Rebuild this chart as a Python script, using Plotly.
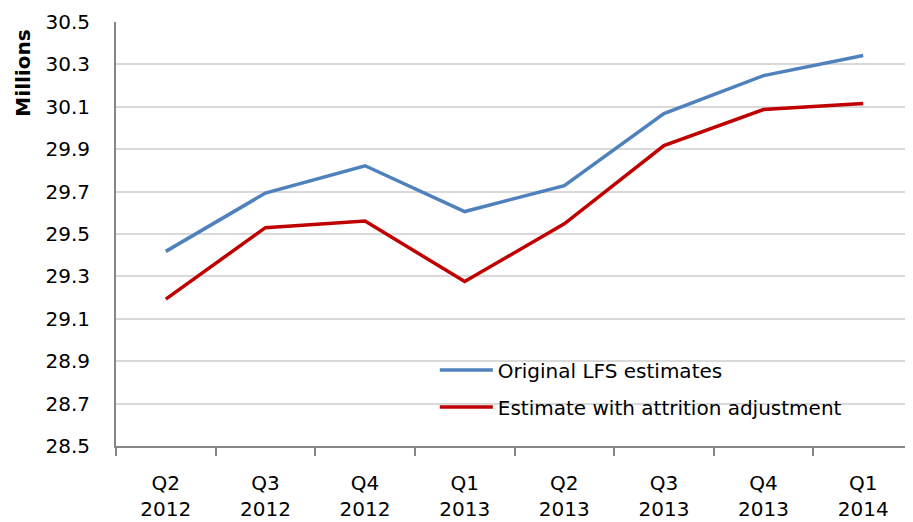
import plotly.graph_objects as go

# Quarterly labels and series (millions)
quarters = ["Q2<br>2012", "Q3<br>2012", "Q4<br>2012", "Q1<br>2013",
            "Q2<br>2013", "Q3<br>2013", "Q4<br>2013", "Q1<br>2014"]
original_lfs = [29.418, 29.693, 29.822, 29.606, 29.728, 30.068, 30.247, 30.342]
attrition_adj = [29.193, 29.530, 29.561, 29.276, 29.548, 29.917, 30.087, 30.115]
y_ticks = [28.5, 28.7, 28.9, 29.1, 29.3, 29.5, 29.7, 29.9, 30.1, 30.3, 30.5]

FONT = "DejaVu Sans, sans-serif"
GRID = "#d9d9d9"
AXIS = "#868686"

fig = go.Figure()
fig.add_trace(go.Scatter(x=quarters, y=original_lfs, mode="lines",
                         name="Original LFS estimates", legendgroup="a",
                         line=dict(color="#4f81bd", width=3.5)))
fig.add_trace(go.Scatter(x=quarters, y=attrition_adj, mode="lines",
                         name="Estimate with attrition adjustment", legendgroup="b",
                         line=dict(color="#c00000", width=3.5)))

# page body has an 8px margin, so the figure is shrunk by that much
fig.update_layout(
    width=905, height=514,
    paper_bgcolor="white", plot_bgcolor="white",
    font=dict(family=FONT, size=20, color="#000000"),
    margin=dict(l=108, r=0, t=14, b=76),
    showlegend=True,
    legend=dict(x=0.40, xanchor="left", y=0.225, yanchor="top",
                bgcolor="rgba(0,0,0,0)", tracegroupgap=8, itemwidth=53,
                font=dict(size=20)),
)
fig.update_xaxes(type="category", range=[-0.5, 7.5], automargin=False,
                 showline=True, linecolor=AXIS, linewidth=2,
                 ticks="outside", tickson="boundaries", ticklen=8,
                 tickcolor=AXIS, tickwidth=1.5, showgrid=False,
                 ticklabelstandoff=18)
fig.update_yaxes(range=[28.5, 30.5], tickvals=y_ticks, automargin=False,
                 ticktext=[f"{v:.1f}" for v in y_ticks],
                 showline=True, linecolor=AXIS, linewidth=2,
                 gridcolor=GRID, gridwidth=1.5, zeroline=False, ticks="",
                 ticklabelstandoff=20)

fig.add_annotation(text="<b>Millions</b>", textangle=-90,
                   xref="paper", yref="paper", x=-0.117, y=0.88,
                   xanchor="center", yanchor="middle", showarrow=False,
                   font=dict(family=FONT, size=20, color="#000000"))

fig.write_html("out.html")
